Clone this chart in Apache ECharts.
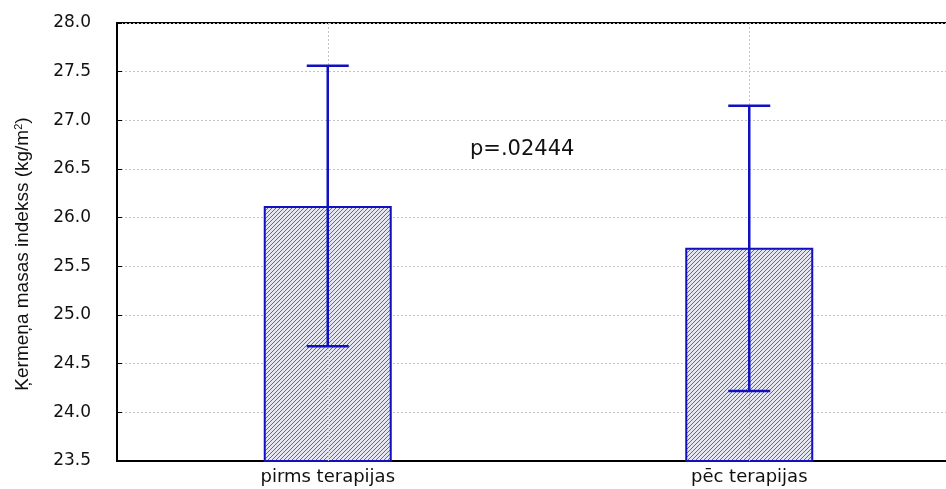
<!DOCTYPE html>
<html><head><meta charset="utf-8">
<script src="https://cdn.jsdelivr.net/npm/echarts@6/dist/echarts.min.js"></script>
<style>html,body{margin:0;padding:0;background:#fff}#c{width:946px;height:489px}</style>
</head><body><div id="c"></div>
<script>
const categories = ['pirms terapijas', 'pēc terapijas'];
const means = [26.12, 25.69];
const errLow = [24.68, 24.22];
const errHigh = [27.56, 27.15];
const yTicks = {min: 23.5, max: 28.0, interval: 0.5};
const pText = 'p=.02444';

const pc = document.createElement('canvas');
pc.width = 4; pc.height = 4;
const g = pc.getContext('2d');
g.fillStyle = '#e6e6f0'; g.fillRect(0,0,4,4);
g.strokeStyle = '#6464a0'; g.lineWidth = 1;
g.beginPath();
g.moveTo(-1,5); g.lineTo(5,-1);
g.moveTo(-1,1); g.lineTo(1,-1);
g.moveTo(3,5); g.lineTo(5,3);
g.stroke();

const blue = '#1010c0';
const chart = echarts.init(document.getElementById('c'));
chart.setOption({
  animation: false,
  grid: {left: 117, top: 23, right: -14, bottom: 28, outerBoundsMode: 'none', containLabel: false,
    show: true, borderColor: '#000', borderWidth: 2, backgroundColor: 'transparent'},
  xAxis: {
    type: 'category', data: categories,
    axisLine: {lineStyle: {color: '#000', width: 2}},
    axisTick: {show: true, inside: true, alignWithLabel: true, length: 4, lineStyle: {color: '#000'}},
    axisLabel: {fontFamily: 'DejaVu Sans', fontSize: 18, color: '#111', margin: 7},
    splitLine: {show: false}
  },
  yAxis: {
    type: 'value', min: yTicks.min, max: yTicks.max, interval: yTicks.interval,
    axisLine: {show: true, lineStyle: {color: '#000', width: 2}},
    axisTick: {show: true, inside: true, length: 5, lineStyle: {color: '#000'}},
    axisLabel: {fontFamily: 'DejaVu Sans', fontSize: 17, color: '#111', margin: 26,
      formatter: v => v.toFixed(1)},
    splitLine: {show: true, lineStyle: {color: '#c4c4c4', type: [2, 2], width: 1}},
    name: 'Ķermeņa masas indekss (kg/m{sup|2})',
    nameLocation: 'middle', nameGap: 84,
    nameTextStyle: {fontFamily: 'Liberation Sans', fontSize: 19, color: '#111', padding: [0, 24, 0, 0],
      rich: {sup: {fontSize: 11, verticalAlign: 'top', padding: [0,0,9,0], fontFamily: 'Liberation Sans', color: '#111'}}}
  },
  series: [
    {
      type: 'bar', data: means, barWidth: 128,
      itemStyle: {color: {image: pc, repeat: 'repeat'}, borderColor: blue, borderWidth: 2},
      markLine: {silent: true, symbol: 'none', label: {show: false},
        lineStyle: {color: '#c4c4c4', type: [2, 2], width: 1},
        data: categories.map(c => ({xAxis: c}))}
    },
    {
      type: 'custom', z: 5,
      data: categories.map((c, i) => [i, errLow[i], errHigh[i]]),
      renderItem: (params, api) => {
        const lo = api.coord([api.value(0), api.value(1)]);
        const hi = api.coord([api.value(0), api.value(2)]);
        const hw = 21;
        const st = {stroke: blue, lineWidth: 2.5};
        return {type: 'group', children: [
          {type: 'line', shape: {x1: hi[0], y1: hi[1], x2: lo[0], y2: lo[1]}, style: st},
          {type: 'line', shape: {x1: hi[0]-hw, y1: hi[1], x2: hi[0]+hw, y2: hi[1]}, style: st},
          {type: 'line', shape: {x1: lo[0]-hw, y1: lo[1], x2: lo[0]+hw, y2: lo[1]}, style: st}
        ]};
      }
    }
  ],
  graphic: [{type: 'text', left: 470, top: 139, style: {text: pText, fontFamily: 'DejaVu Sans', fontSize: 21, fill: '#111'}}]
});
</script></body></html>
